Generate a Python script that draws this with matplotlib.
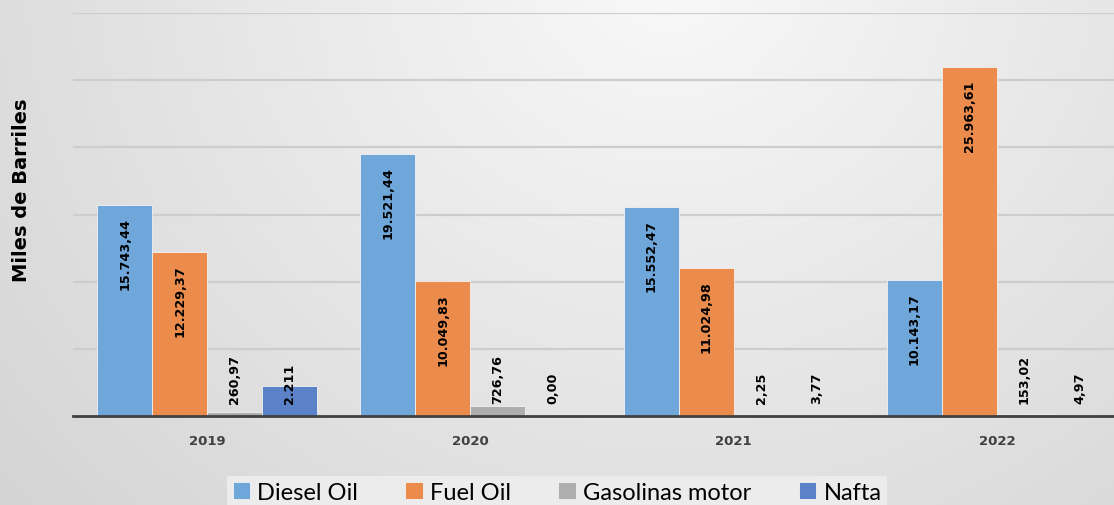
import matplotlib
matplotlib.use('Agg')
import matplotlib.pyplot as plt
import numpy as np

years = ['2019', '2020', '2021', '2022']
series = ['Diesel Oil', 'Fuel Oil', 'Gasolinas motor', 'Nafta']
diesel = [15743.44, 19521.44, 15552.47, 10143.17]
fuel = [12229.37, 10049.83, 11024.98, 25963.61]
gasolinas = [260.97, 726.76, 2.25, 153.02]
nafta = [2211.0, 0.00, 3.77, 4.97]
diesel_lbl = ['15.743,44', '19.521,44', '15.552,47', '10.143,17']
fuel_lbl = ['12.229,37', '10.049,83', '11.024,98', '25.963,61']
gasolinas_lbl = ['260,97', '726,76', '2,25', '153,02']
nafta_lbl = ['2.211', '0,00', '3,77', '4,97']

colors = ['#6FA7DA', '#EC8C4C', '#AEAEAE', '#5B82C8']

fig = plt.figure(figsize=(11.14, 5.06), dpi=100)

# background gradient
bg = fig.add_axes([0, 0, 1, 1], zorder=-10)
xx, yy = np.meshgrid(np.linspace(0, 1, 400), np.linspace(0, 1, 200))
d = np.sqrt(((xx - 0.6) * 2.0) ** 2 + (yy - 1.05) ** 2)
g = np.clip(0.975 - 0.09 * d, 0.82, 0.98)
bg.imshow(np.dstack([g, g, g]), extent=[0, 1, 0, 1], origin='lower', aspect='auto')
bg.axis('off')

ax = fig.add_axes([73 / 1114, 89 / 506, 1 - 73 / 1114, 403 / 506])
ax.patch.set_alpha(0)

x = np.arange(len(years))
w = 0.209
data = [diesel, fuel, gasolinas, nafta]
labels = [diesel_lbl, fuel_lbl, gasolinas_lbl, nafta_lbl]
for i, (vals, lbls) in enumerate(zip(data, labels)):
    pos = x + (i - 1.5) * w
    ax.bar(pos, vals, w, color=colors[i], edgecolor='#f2f2f2', linewidth=0.6,
           label=series[i], zorder=3)
    for p, v, t in zip(pos, vals, lbls):
        if i < 2:
            ax.annotate(t, (p, v), xytext=(0, -9), textcoords='offset points',
                        rotation=90, ha='center', va='top', fontsize=9.2,
                        fontweight='bold', color='black', zorder=4)
        else:
            ax.annotate(t, (p, 0), xytext=(0, 9), textcoords='offset points',
                        rotation=90, ha='center', va='bottom', fontsize=9.2,
                        fontweight='bold', color='black', zorder=4)

ax.set_ylim(0, 30000)
ax.set_xlim(-0.51, 3.445)
ax.set_yticks(np.arange(5000, 30001, 5000))
ax.yaxis.grid(True, color='#cdcdcd', linewidth=1.6, zorder=0)
ax.tick_params(axis='y', left=False, labelleft=False)
ax.set_xticks(x)
ax.set_xticklabels(years, fontsize=9.5, fontweight='bold', color='#404040')
ax.tick_params(axis='x', length=0, pad=13)
for s in ['top', 'right', 'left']:
    ax.spines[s].set_visible(False)
ax.spines['bottom'].set_color('#404040')
ax.spines['bottom'].set_linewidth(2)
ax.spines['bottom'].set_zorder(5)

fig.text(22 / 1114, 1 - 190 / 506, 'Miles de Barriles', rotation=90,
         ha='center', va='center', fontsize=14, fontweight='bold',
         family='DejaVu Sans')

leg = fig.legend(loc='upper center', bbox_to_anchor=(0.5, 1 - 477 / 506), ncol=4,
                 frameon=True, fancybox=False, handlelength=0.75, handleheight=0.75,
                 handletextpad=0.3, columnspacing=2.0, borderpad=0.25,
                 borderaxespad=0, prop={'family': 'Lato', 'size': 17})
leg.get_frame().set_facecolor('#ececec')
leg.get_frame().set_edgecolor('none')
leg.get_frame().set_alpha(1)

fig.savefig('out.png', dpi=100)
